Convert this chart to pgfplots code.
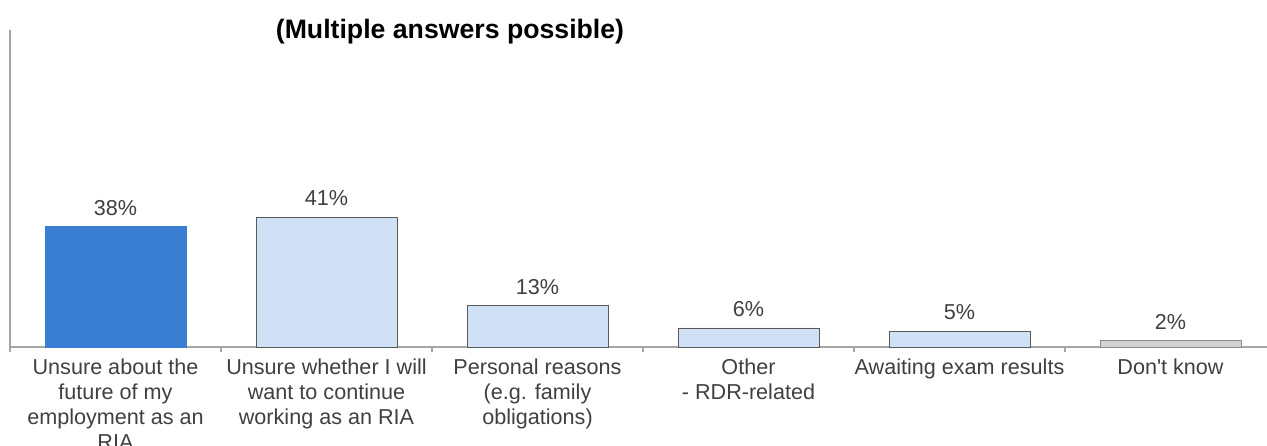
\documentclass[border=0pt]{standalone}
\usepackage{pgfplots}
\pgfplotsset{compat=1.18}
\usepackage{fontspec}
\setmainfont{Liberation Sans}
\definecolor{txt}{HTML}{404040}
\definecolor{axgray}{HTML}{A6A6A6}
\definecolor{darkblue}{HTML}{3A7ED4}
\definecolor{lightblue}{HTML}{D0E1F5}
\definecolor{barline}{HTML}{595959}
\definecolor{greyfill}{HTML}{D4D4D4}
\definecolor{greyline}{HTML}{8C8C8C}
\begin{document}
\begin{tikzpicture}
\path[use as bounding box] (0,0) rectangle (950.25pt,334.5pt);
\clip (0,0) rectangle (950.25pt,334.5pt);
\node[font=\fontsize{20}{24}\selectfont\bfseries, text=black, anchor=center] at (337.5pt,311pt) {(Multiple answers possible)};
\begin{axis}[
  at={(7.5pt,74.25pt)}, anchor=south west,
  scale only axis, width=949.5pt, height=237.75pt,
  xmin=-0.5, xmax=5.5, ymin=0, ymax=100,
  axis lines*=left,
  axis line style={axgray, line width=0.8pt},
  ytick=\empty,
  xtick={0,1,2,3,4,5},
  xticklabels={{Unsure about the\\future of my\\employment as an\\RIA},
               {Unsure whether I will\\want to continue\\working as an RIA},
               {Personal reasons\\(e.g. family\\obligations)},
               {Other\\- RDR-related},
               {Awaiting exam results},
               {Don\textquotesingle t know}},
  minor xtick={-0.5,0.5,1.5,2.5,3.5,4.5,5.5},
  major tick length=0pt,
  minor tick length=4pt,
  tick align=outside,
  tick pos=left,
  minor tick style={axgray, line width=0.8pt},
  xticklabel style={align=center, anchor=north, inner sep=0pt, yshift=-9pt,
    font=\fontsize{16.2}{18.75}\selectfont, text=txt},
  ybar, bar width=105.75pt, bar shift=0pt,
  nodes near coords={\pgfmathprintnumber[assume math mode=true]{\pgfplotspointmeta}\%},
  every node near coord/.append style={font=\fontsize{16.2}{18}\selectfont, text=txt, inner sep=0pt, anchor=south, yshift=8pt},
  clip=false,
]
\addplot[fill=darkblue, draw=darkblue, line width=0.6pt] coordinates {(0,38)};
\addplot[fill=lightblue, draw=barline, line width=0.6pt] coordinates {(1,41) (2,13) (3,6) (4,5)};
\addplot[fill=greyfill, draw=greyline, line width=0.6pt] coordinates {(5,2)};
\end{axis}
\end{tikzpicture}
\end{document}
